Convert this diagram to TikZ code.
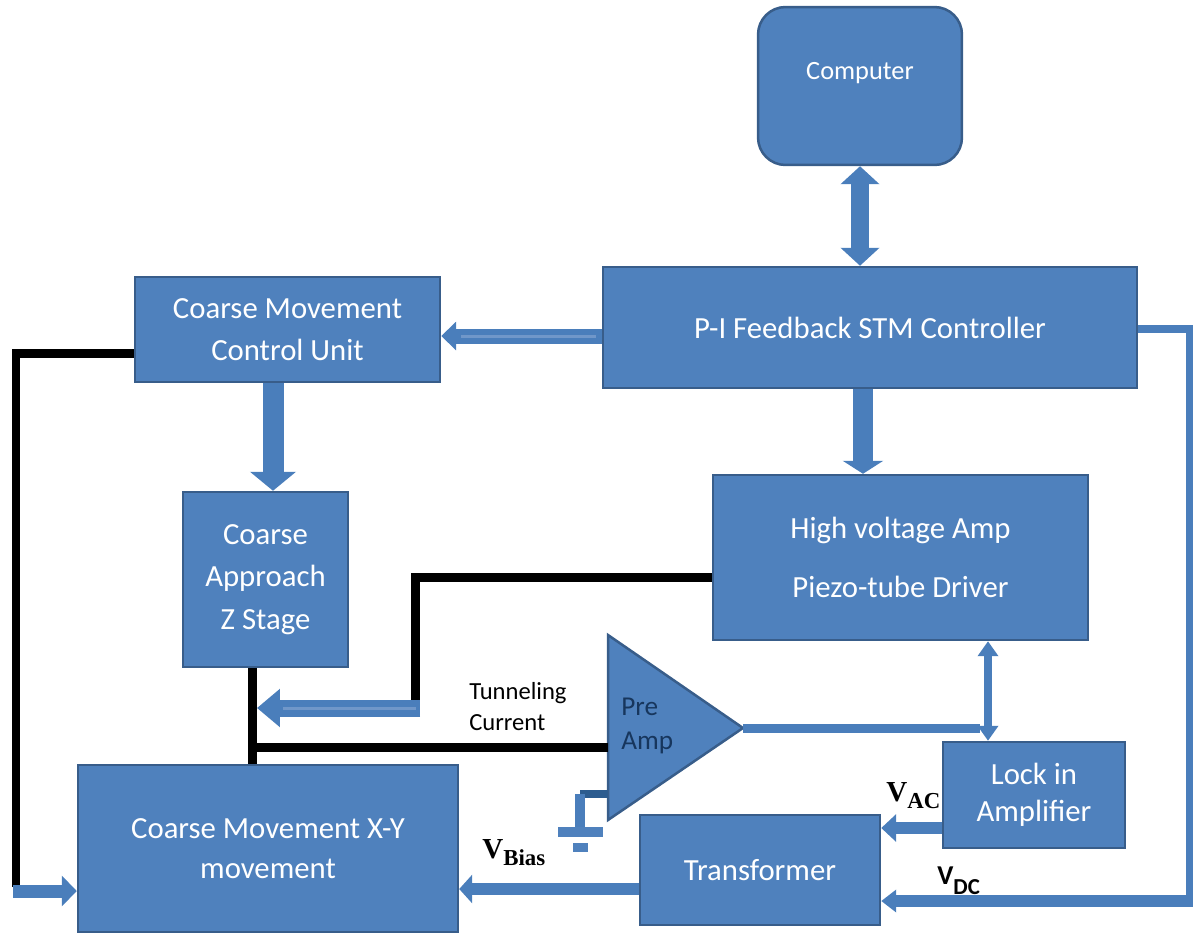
\documentclass[tikz,border=0pt]{standalone}
\usepackage{fontspec}
\setmainfont{Carlito}
\newfontfamily\vserif{Liberation Serif}
\usetikzlibrary{arrows.meta,positioning,calc}
\definecolor{boxblue}{HTML}{4F81BD}
\definecolor{boxedge}{HTML}{385D8A}
\definecolor{arrblue}{HTML}{4A7EBB}
\definecolor{stripeblue}{HTML}{7097C9}
\definecolor{gndblue}{HTML}{2C5C8F}
\definecolor{ampink}{HTML}{17365D}
% V with a lowered subscript
\newcommand{\vserlab}[1]{{\vserif\bfseries\fontsize{16.5}{17}\selectfont V\raisebox{-0.14cm}{\fontsize{13}{13}\selectfont #1}}}
\newcommand{\vsanlab}[1]{{\bfseries\fontsize{15.5}{17}\selectfont V\raisebox{-0.2cm}{\fontsize{13}{13}\selectfont #1}}}

\begin{document}
\begin{tikzpicture}[x=0.02cm,y=-0.02cm,
	box/.style={draw=boxedge,line width=0.05cm,fill=boxblue,text=white,align=center,inner sep=0pt,font=\fontsize{17.5}{24}\selectfont},
	wire/.style={line width=0.18cm,black},
	flow/.style={draw=arrblue,line width=#1},
	stripe/.style={stripeblue,line width=0.06cm},
	]
	\useasboundingbox (0,0) rectangle (1193,940);
	
	% blocks
	\node[box,rounded corners=0.55cm,minimum width=4.08cm,minimum height=3.16cm] (comp) at (860,86) {};
	\node[text=white,font=\fontsize{15}{18}\selectfont] (comptext) at ([yshift=0.26cm]comp.center) {Computer};
	\node[box,minimum width=10.68cm,minimum height=2.42cm] (ctrl) at (870,327.5) {P-I Feedback STM Controller};
	\node[box,minimum width=6.1cm,minimum height=2.1cm] (cmcu) at (287.5,329.5) {Coarse Movement\\Control Unit};
	\node[box,minimum width=3.3cm,minimum height=3.5cm] (zst) at (265.5,579.5) {Coarse\\Approach\\Z Stage};
	\node[box,minimum width=7.5cm,minimum height=3.3cm,font=\fontsize{17.5}{34}\selectfont] (hv) at (900.5,557.5) {High voltage Amp\\Piezo-tube Driver};
	\node[box,minimum width=3.64cm,minimum height=2.12cm,font=\fontsize{17.5}{21}\selectfont] (lock) at (1034,795) {Lock in\\Amplifier};
	\node[box,minimum width=4.8cm,minimum height=2.2cm] (trans) at (760,870) {Transformer};
	\node[box,minimum width=7.6cm,minimum height=3.34cm,font=\fontsize{17.5}{23}\selectfont] (xy) at (268,848.5) {Coarse Movement X-Y\\movement};
	
	% pre amp
	\coordinate (paT) at (608,635);
	\coordinate (paB) at (608,820);
	\coordinate (paO) at (743,728);
	\draw[draw=boxedge,line width=0.05cm,fill=boxblue] (paT) -- (paO) -- (paB) -- cycle;
	\node[anchor=west,align=left,text=ampink,inner sep=0pt,font=\fontsize{15.5}{19}\selectfont] (patext) at (621,726) {Pre\\Amp};
	
	% helper points
	\coordinate (tcTurn) at (415,577);
	\coordinate (tcEnd) at (420,708);
	\coordinate (tcTip) at (257,708);
	\coordinate (tunJoin) at (252,747);
	\coordinate (outEnd) at (980,728);
	\coordinate (dcTop) at (1190,329);
	\coordinate (dcBot) at (1190,901);
	\coordinate (leftTop) at (16,353);
	\coordinate (leftBot) at (16,887);
	\coordinate (leftArr) at (13,891);
	
	% blue flows
	\draw[flow=0.36cm,{Triangle[width=0.76cm,length=0.36cm]}-{Triangle[width=0.76cm,length=0.36cm]}] (comp.south) -- (comp.south |- ctrl.north);
	\draw[flow=0.3cm,-{Triangle[width=0.56cm,length=0.3cm]}] (ctrl.west |- 0,336) -- (cmcu.east |- 0,336);
	\draw[stripe] ($(ctrl.west |- 0,336)+(-6,0)$) -- ($(cmcu.east |- 0,336)+(20,0)$);
	\draw[flow=0.42cm,-{Triangle[width=0.9cm,length=0.38cm]}] (cmcu.south -| 273,0) -- (zst.north -| 273,0);
	\draw[flow=0.4cm,-{Triangle[width=0.8cm,length=0.26cm]}] (ctrl.south -| 863,0) -- (hv.north -| 863,0);
	\draw[flow=0.16cm,{Triangle[width=0.4cm,length=0.3cm]}-{Triangle[width=0.4cm,length=0.3cm]}] (hv.south -| 988,0) -- (lock.north -| 988,0);
	\draw[flow=0.24cm,-{Triangle[width=0.54cm,length=0.3cm]}] (lock.west |- 0,828) -- (trans.east |- 0,828);
	\draw[flow=0.24cm,-{Triangle[width=0.56cm,length=0.26cm]}] (trans.west |- 0,889) -- (xy.east |- 0,889);
	\draw[flow=0.18cm] (paO) -- (outEnd);
	\draw[flow=0.15cm] (ctrl.east |- dcTop) -- (dcTop) -- (dcBot);
	\draw[flow=0.24cm,-{Triangle[width=0.44cm,length=0.3cm]}] ([xshift=0.08cm]dcBot) -- (trans.east |- dcBot);
	
	% black wires
	\draw[wire] (cmcu.west |- leftTop) -- (leftTop) -- (leftBot);
	\draw[flow=0.26cm,-{Triangle[width=0.6cm,length=0.3cm]}] (leftArr) -- (xy.west |- leftArr);
	\draw[wire] (hv.west |- tcTurn) -- (tcTurn) -- (tcTurn |- tcEnd);
	\draw[flow=0.34cm,-{Triangle[width=0.74cm,length=0.46cm]}] (tcEnd) -- (tcTip);
	\draw[stripe] ($(tcEnd)+(-4,0)$) -- ($(tcTip)+(26,0)$);
	\draw[wire] (zst.south -| tunJoin) -- (xy.north -| tunJoin);
	\draw[wire] (tunJoin) -- (paT |- tunJoin);
	
	% ground
	\draw[gndblue,line width=0.16cm] (paT |- 0,794) -- (580,794);
	\draw[arrblue,line width=0.2cm] (580,794) -- (580,830);
	\fill[boxblue] (558,827) rectangle (603,837);
	\fill[boxblue] (573,843) rectangle (588,852);
	
	% labels
	\node[anchor=north west,align=left,inner sep=0pt,font=\fontsize{14}{17.5}\selectfont] (tunlab) at (469,682) {Tunneling\\Current};
	\node[anchor=base west,inner sep=0pt] (vac) at (886,801) {\vserlab{AC}};
	\node[anchor=base west,inner sep=0pt] (vbias) at (482,858) {\vserlab{Bias}};
	\node[anchor=base west,inner sep=0pt] (vdc) at (937,884) {\vsanlab{DC}};
\end{tikzpicture}
\end{document}
